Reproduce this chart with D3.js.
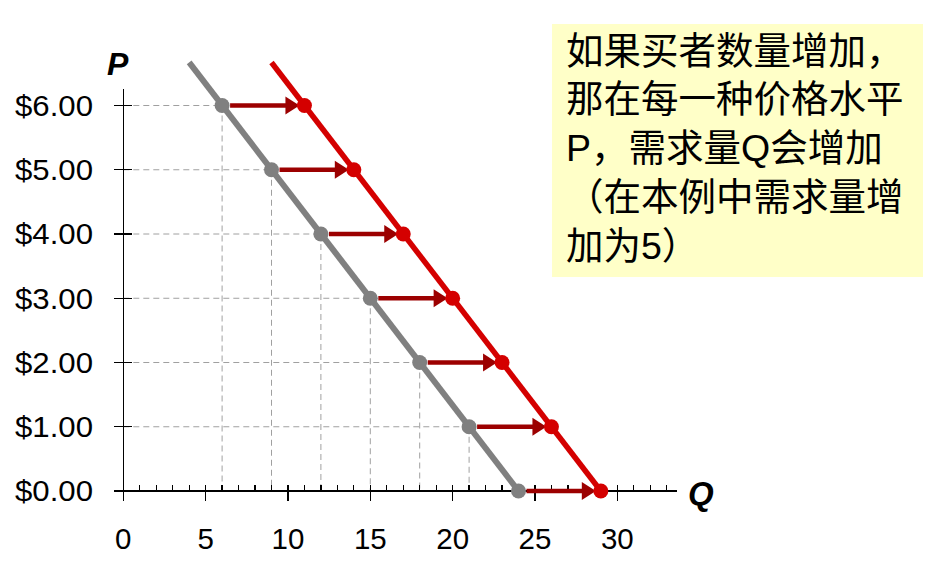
<!DOCTYPE html>
<html><head><meta charset="utf-8">
<script src="https://cdn.jsdelivr.net/npm/d3@7"></script>
<style>
html,body{margin:0;padding:0;background:#fff;}
svg{display:block;}
</style></head>
<body>
<svg id="chart" width="942" height="569"></svg>
<script>
// ---- data ----
const prices = [6, 5, 4, 3, 2, 1, 0];
const qtyBefore = [6, 9, 12, 15, 18, 21, 24];
const qtyAfter = [11, 14, 17, 20, 23, 26, 29];
const lineTopPrice = 6.67;
const lineTopQBefore = 4;
const lineTopQAfter = 9;
const xTickValues = [0, 5, 10, 15, 20, 25, 30];
const xMinorTicks = d3.range(0, 34);
const yTickValues = [0, 1, 2, 3, 4, 5, 6];
const yTickLabels = ["$0.00", "$1.00", "$2.00", "$3.00", "$4.00", "$5.00", "$6.00"];
const noteLines = ["如果买者数量增加，", "那在每一种价格水平", "P，需求量Q会增加", "（在本例中需求量增", "加为5）"];

const svg = d3.select("#chart");
const x = d3.scaleLinear().domain([0, 30]).range([123.3, 617.3]);
const y = d3.scaleLinear().domain([0, 6]).range([491, 105.5]);

const grey = "#808080", red = "#d40000", arrowCol = "#9c0000";

// dashed guides
const g = svg.append("g");
prices.forEach((p, i) => {
  const q = qtyBefore[i];
  if (p > 0) {
    g.append("line").attr("x1", x(0)).attr("x2", x(q)).attr("y1", y(p)).attr("y2", y(p))
      .attr("stroke", "#a0a0a0").attr("stroke-width", 1).attr("stroke-dasharray", "6,4");
    g.append("line").attr("x1", x(q)).attr("x2", x(q)).attr("y1", y(p)).attr("y2", y(0))
      .attr("stroke", "#a0a0a0").attr("stroke-width", 1).attr("stroke-dasharray", "6,4");
  }
});

// axes
const ax = svg.append("g").attr("stroke", "#000").attr("stroke-width", 1.3).attr("shape-rendering", "crispEdges");
ax.append("line").attr("x1", x(0)).attr("x2", x(0)).attr("y1", y(6.25)).attr("y2", y(0) + 10);
ax.append("line").attr("x1", x(0) - 9).attr("x2", x(33.6)).attr("y1", y(0)).attr("y2", y(0));
xMinorTicks.forEach(v => {
  if (v % 5 === 0) {
    ax.append("line").attr("x1", x(v)).attr("x2", x(v)).attr("y1", y(0) - 6).attr("y2", y(0) + 10);
  } else {
    ax.append("line").attr("x1", x(v)).attr("x2", x(v)).attr("y1", y(0) - 6).attr("y2", y(0));
  }
});
yTickValues.forEach(v => {
  if (v > 0) ax.append("line").attr("x1", x(0) - 9).attr("x2", x(0) + 9).attr("y1", y(v)).attr("y2", y(v));
});

// tick labels
const font = "'Liberation Sans', Arial, sans-serif";
yTickValues.forEach((v, i) => {
  svg.append("text").attr("x", 93).attr("y", y(v)).attr("dy", "0.36em")
    .attr("text-anchor", "end").attr("font-family", font).attr("font-size", 29)
    .attr("textLength", 78).attr("lengthAdjust", "spacingAndGlyphs")
    .text(yTickLabels[i]);
});
xTickValues.forEach(v => {
  svg.append("text").attr("x", x(v)).attr("y", 549)
    .attr("text-anchor", "middle").attr("font-family", font).attr("font-size", 29.5)
    .text(v);
});
svg.append("text").attr("x", 107).attr("y", 75).attr("font-family", font).attr("font-size", 32)
  .attr("font-weight", "bold").attr("font-style", "italic").text("P");
svg.append("text").attr("x", 688).attr("y", 505).attr("font-family", font).attr("font-size", 33)
  .attr("font-weight", "bold").attr("font-style", "italic").text("Q");

// demand lines
const lineGen = d3.line().x(d => x(d[0])).y(d => y(d[1]));
svg.append("path").datum([[lineTopQBefore, lineTopPrice], [qtyBefore[6], prices[6]]])
  .attr("d", lineGen).attr("stroke", grey).attr("stroke-width", 6).attr("fill", "none");
svg.append("path").datum([[lineTopQAfter, lineTopPrice], [qtyAfter[6], prices[6]]])
  .attr("d", lineGen).attr("stroke", red).attr("stroke-width", 5.5).attr("fill", "none");

// arrows
prices.forEach((p, i) => {
  const x0 = x(qtyBefore[i]) + 8, x1 = x(qtyAfter[i]) - 5, yy = y(p);
  svg.append("line").attr("x1", x0).attr("x2", x1 - 12).attr("y1", yy).attr("y2", yy)
    .attr("stroke", arrowCol).attr("stroke-width", 4.5);
  svg.append("path").attr("d", `M${x1},${yy} L${x1 - 14},${yy - 9} L${x1 - 14},${yy + 9} Z`)
    .attr("fill", arrowCol);
});

// points
prices.forEach((p, i) => {
  svg.append("circle").attr("cx", x(qtyBefore[i])).attr("cy", y(p)).attr("r", 7.5).attr("fill", grey);
  svg.append("circle").attr("cx", x(qtyAfter[i])).attr("cy", y(p)).attr("r", 7.5).attr("fill", red);
});

// note box
svg.append("rect").attr("x", 552).attr("y", 24).attr("width", 371).attr("height", 253).attr("fill", "#ffffc8");
noteLines.forEach((t, i) => {
  svg.append("text").attr("x", 566).attr("y", 50 + i * 48.8).attr("dy", "0.36em")
    .attr("font-family", "'Liberation Sans', 'Noto Sans CJK SC', sans-serif").attr("font-size", 37.5)
    .attr("fill", "#000").text(t);
});
</script>
</body></html>
